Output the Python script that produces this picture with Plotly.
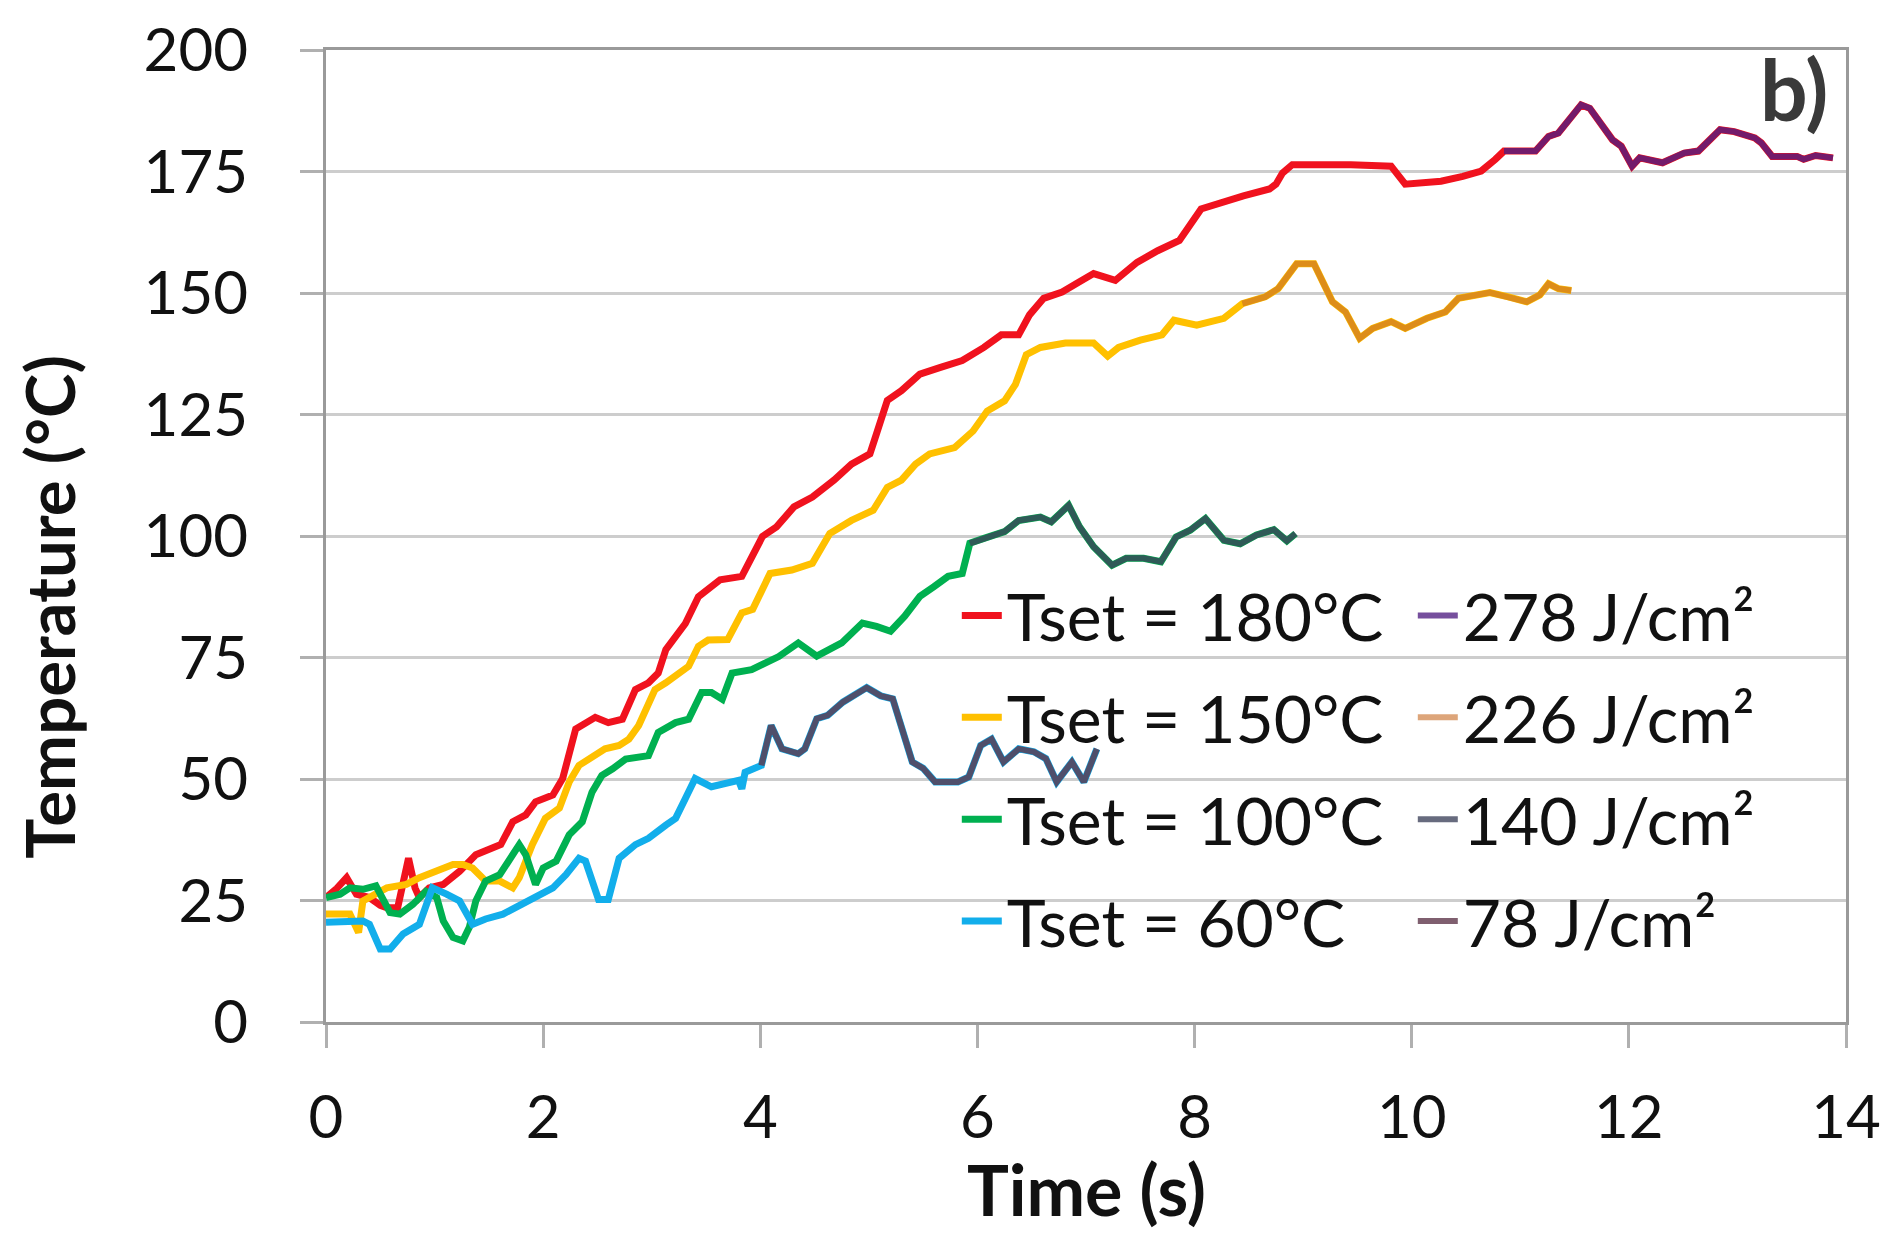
import plotly.graph_objects as go

# ---------------- data ----------------
t_180 = [0.00, 0.10, 0.19, 0.28, 0.40, 0.50, 0.56, 0.66, 0.76, 0.82, 0.86, 0.95, 1.08, 1.23, 1.38, 1.47,
         1.61, 1.72, 1.84, 1.93, 2.09, 2.18, 2.30, 2.48, 2.60, 2.73, 2.85, 2.97, 3.06, 3.13, 3.22, 3.31,
         3.43, 3.63, 3.83, 3.93, 4.02, 4.15, 4.31, 4.48, 4.68, 4.84, 5.01, 5.07, 5.17, 5.30, 5.47, 5.66,
         5.86, 6.06, 6.22, 6.38, 6.48, 6.61, 6.78, 6.94, 7.07, 7.27, 7.47, 7.66, 7.86, 8.06, 8.23, 8.45,
         8.69, 8.75, 8.81, 8.90, 9.44, 9.81, 9.94, 10.27, 10.47, 10.64, 10.77, 10.85, 11.14, 11.26, 11.35,
         11.56, 11.64, 11.85, 11.93, 12.03, 12.10, 12.31, 12.51, 12.64, 12.84, 12.97, 13.16, 13.22, 13.32,
         13.55, 13.61, 13.72, 13.88]
T_180 = [25.6, 27.5, 29.7, 26.3, 25.6, 24.0, 23.5, 23.5, 33.7, 27.6, 25.6, 27.6, 28.3, 31.0, 34.4, 35.1,
         36.5, 41.2, 42.6, 45.3, 46.7, 50.1, 60.3, 62.7, 61.6, 62.3, 68.4, 69.8, 71.8, 76.6, 79.3, 82.0,
         87.5, 91.0, 91.7, 96.4, 99.9, 101.9, 106.0, 108.0, 111.5, 114.8, 116.9, 121.0, 127.9, 129.9, 133.3, 134.7,
         136.1, 138.8, 141.4, 141.4, 145.5, 148.9, 150.2, 152.3, 154.0, 152.6, 156.3, 158.7, 160.8, 167.3, 168.6, 170.0,
         171.4, 172.4, 174.7, 176.4, 176.4, 176.1, 172.4, 173.0, 174.0, 175.1, 177.5, 179.2, 179.2, 182.2, 182.9,
         188.7, 188.0, 181.5, 180.2, 176.1, 177.8, 176.8, 178.8, 179.2, 183.6, 183.2, 181.9, 180.9, 178.1,
         178.1, 177.5, 178.3, 177.8]

t_150 = [0.00, 0.22, 0.30, 0.34, 0.56, 0.74, 0.86, 1.02, 1.17, 1.26, 1.35, 1.47, 1.60, 1.72, 1.78, 1.90,
         2.02, 2.15, 2.24, 2.33, 2.48, 2.57, 2.70, 2.79, 2.88, 2.97, 3.03, 3.13, 3.25, 3.34, 3.43, 3.52,
         3.70, 3.83, 3.93, 4.09, 4.29, 4.48, 4.64, 4.84, 5.04, 5.17, 5.30, 5.43, 5.56, 5.79, 5.96, 6.09,
         6.25, 6.35, 6.45, 6.58, 6.81, 7.07, 7.20, 7.30, 7.50, 7.70, 7.81, 8.02, 8.27, 8.44, 8.65, 8.77,
         8.94, 9.10, 9.27, 9.39, 9.52, 9.64, 9.81, 9.94, 10.14, 10.31, 10.43, 10.72, 10.89, 11.06, 11.18,
         11.26, 11.35, 11.47]
T_150 = [22.2, 22.2, 18.4, 24.9, 27.6, 28.3, 29.7, 31.0, 32.4, 32.4, 31.7, 29.0, 29.0, 27.6, 29.7, 36.5,
         41.9, 44.0, 49.4, 52.8, 54.8, 56.2, 56.9, 58.2, 61.0, 65.7, 68.4, 69.8, 71.8, 73.2, 77.3, 78.6,
         78.7, 84.2, 84.9, 92.3, 93.0, 94.4, 100.5, 103.2, 105.3, 110.0, 111.5, 114.8, 116.9, 118.2, 121.6, 125.7,
         127.8, 131.2, 137.3, 138.8, 139.7, 139.7, 137.0, 138.8, 140.3, 141.4, 144.4, 143.4, 144.8, 147.8, 149.2, 150.9,
         156.0, 156.0, 148.2, 146.1, 140.7, 142.7, 144.1, 142.7, 144.8, 146.1, 148.9, 150.1, 149.2, 148.2, 149.6,
         151.9, 150.9, 150.5]

t_100 = [0.00, 0.13, 0.22, 0.34, 0.46, 0.59, 0.68, 0.80, 0.92, 1.02, 1.08, 1.17, 1.26, 1.32, 1.38, 1.47,
         1.60, 1.78, 1.84, 1.93, 2.00, 2.12, 2.24, 2.36, 2.45, 2.54, 2.64, 2.76, 2.97, 3.06, 3.22, 3.34,
         3.46, 3.55, 3.65, 3.74, 3.92, 4.04, 4.17, 4.35, 4.52, 4.75, 4.94, 5.07, 5.20, 5.33, 5.47, 5.60,
         5.73, 5.86, 5.93, 6.06, 6.25, 6.38, 6.58, 6.68, 6.84, 6.94, 7.07, 7.24, 7.37, 7.53, 7.69, 7.83,
         7.96, 8.10, 8.27, 8.42, 8.57, 8.73, 8.85, 8.93]
T_100 = [25.6, 26.3, 27.6, 27.3, 28.0, 22.5, 22.2, 24.2, 26.9, 25.6, 20.8, 17.4, 16.7, 19.5, 24.9, 29.0,
         30.3, 36.5, 34.4, 28.3, 31.7, 33.1, 38.5, 41.2, 47.3, 50.7, 52.1, 54.1, 54.8, 59.6, 61.6, 62.3,
         67.8, 67.8, 66.4, 71.8, 72.5, 73.9, 75.2, 78.0, 75.3, 78.0, 82.1, 81.4, 80.4, 83.5, 87.6, 89.6,
         91.7, 92.3, 98.5, 99.5, 100.9, 103.2, 103.9, 102.9, 106.3, 101.9, 97.8, 94.0, 95.4, 95.4, 94.7, 99.8,
         101.2, 103.6, 99.1, 98.4, 100.2, 101.3, 99.0, 100.5]

t_60 = [0.00, 0.34, 0.40, 0.50, 0.59, 0.71, 0.86, 0.98, 1.11, 1.23, 1.35, 1.47, 1.63, 1.78, 1.93, 2.09,
        2.21, 2.33, 2.39, 2.51, 2.60, 2.70, 2.85, 2.97, 3.13, 3.22, 3.31, 3.40, 3.55, 3.71, 3.80, 3.83,
        3.86, 4.01, 4.10, 4.20, 4.35, 4.41, 4.52, 4.62, 4.76, 4.98, 5.11, 5.22, 5.33, 5.40, 5.50, 5.61,
        5.82, 5.92, 6.03, 6.13, 6.24, 6.38, 6.52, 6.63, 6.73, 6.87, 6.98, 7.10]
T_60 = [20.5, 20.8, 20.1, 15.0, 15.0, 18.1, 20.1, 27.6, 26.3, 24.9, 20.1, 21.2, 22.2, 23.9, 25.9, 27.6,
        30.3, 33.7, 33.1, 25.2, 25.2, 33.7, 36.5, 37.8, 40.5, 41.9, 46.0, 50.1, 48.4, 49.4, 49.7, 48.0,
        51.4, 52.8, 61.0, 56.2, 55.2, 56.2, 62.4, 63.1, 65.8, 68.8, 67.1, 66.5, 59.0, 53.5, 52.2, 49.4,
        49.4, 50.4, 56.9, 58.2, 53.5, 56.2, 55.6, 54.2, 49.4, 53.5, 49.4, 56.2]

# time at which the energy-labelled part of each curve begins
end_180, end_150, end_100, end_60 = 10.85, 8.44, 5.93, 4.01

set_names = ["Tset = 180°C", "Tset = 150°C", "Tset = 100°C", "Tset = 60°C"]
energy_names = ["278 J/cm²", "226 J/cm²", "140 J/cm²", "78 J/cm²"]

x_ticks = [0, 2, 4, 6, 8, 10, 12, 14]
y_ticks = [0, 25, 50, 75, 100, 125, 150, 175, 200]

# ---------------- styling ----------------
set_colors = ["#F0121E", "#FFC000", "#00B050", "#12AEEB"]
energy_colors = ["rgba(80,30,130,0.78)", "rgba(200,110,40,0.62)",
                 "rgba(60,65,90,0.78)", "rgba(95,55,75,0.80)"]

series = [(t_180, T_180, end_180), (t_150, T_150, end_150),
          (t_100, T_100, end_100), (t_60, T_60, end_60)]

FONT = "Lato"
fig = go.Figure()

for i, (t, v, e) in enumerate(series):
    fig.add_trace(go.Scatter(x=t, y=v, mode="lines", name=set_names[i],
                             line=dict(color=set_colors[i], width=7),
                             legend="legend", legendgroup=f"s{i}"))

for i, (t, v, e) in enumerate(series):
    tt = [a for a in t if a >= e]
    vv = [b for a, b in zip(t, v) if a >= e]
    fig.add_trace(go.Scatter(x=tt, y=vv, mode="lines", name=energy_names[i],
                             line=dict(color=energy_colors[i], width=6),
                             legend="legend2", legendgroup=f"e{i}"))

axis_common = dict(
    showline=True, linecolor="#9A9A9A", linewidth=3, mirror=True,
    ticks="outside", ticklen=23, tickwidth=3, tickcolor="#B0B0B0",
    tickfont=dict(family=FONT, size=60, color="#111111"),
    zeroline=False,
)

fig.update_xaxes(range=[0, 14], tickvals=x_ticks, showgrid=False,
                 ticklabelstandoff=18, **axis_common)
fig.update_yaxes(range=[0, 200], tickvals=y_ticks, showgrid=True,
                 gridcolor="#CDCDCD", gridwidth=3, ticklabelstandoff=40, **axis_common)

legend_common = dict(
    bgcolor="rgba(0,0,0,0)", borderwidth=0,
    font=dict(family=FONT, size=66, color="#111111"),
    xanchor="left", yanchor="top", orientation="v",
    traceorder="grouped", tracegroupgap=13, itemwidth=40,
)

fig.update_layout(
    width=1893, height=1243,
    margin=dict(l=326, r=42, t=43, b=221),
    paper_bgcolor="white", plot_bgcolor="white",
    showlegend=True,
    legend=dict(x=0.415, y=0.469, **legend_common),
    legend2=dict(x=0.715, y=0.469, **legend_common),
    annotations=[
        dict(text="<b>Temperature (°C)</b>", xref="paper", yref="paper",
             x=-0.1823, y=0.427, textangle=-90, showarrow=False,
             xanchor="center", yanchor="middle",
             font=dict(family=FONT, size=67, color="#111111")),
        dict(text="<b>Time (s)</b>", xref="paper", yref="paper",
             x=0.5, y=-0.172, showarrow=False, xanchor="center", yanchor="middle",
             font=dict(family=FONT, size=70, color="#111111")),
        dict(text="<b>b)</b>", xref="paper", yref="paper",
             x=0.9895, y=0.960, showarrow=False, xanchor="right", yanchor="middle",
             font=dict(family=FONT, size=84, color="#3A3A3A")),
    ],
)

fig.write_html("out.html")
